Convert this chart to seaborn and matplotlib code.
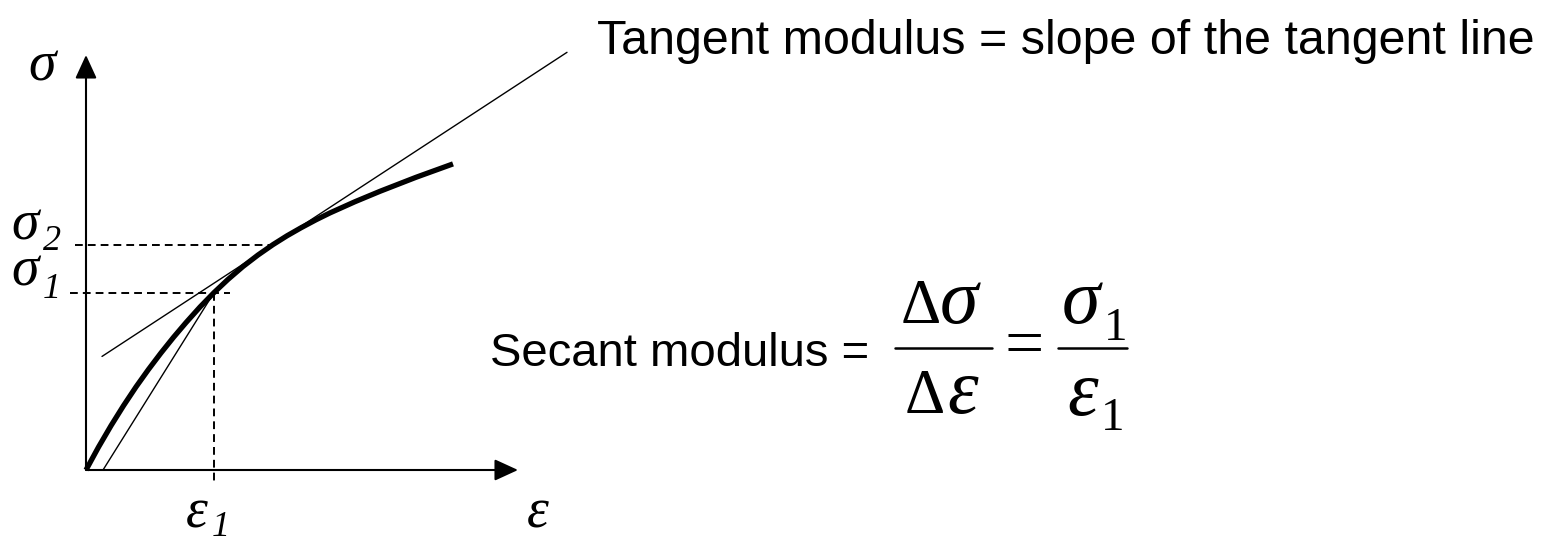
import matplotlib
matplotlib.use("Agg")
import matplotlib.pyplot as plt
import seaborn as sns
import pandas as pd
from matplotlib.lines import Line2D

# ---- data (arbitrary units) ----
strain = [0, 0.125, 0.25, 0.375, 0.5, 0.625, 0.75, 0.875, 1.0, 1.14, 1.28, 1.42, 1.57,
          1.72, 1.87, 2.01, 2.15, 2.30, 2.44, 2.69, 2.94, 3.30, 3.67]
stress = [0, 0.229, 0.443, 0.643, 0.831, 1.006, 1.171, 1.327, 1.474, 1.630, 1.774, 1.906,
          2.035, 2.150, 2.254, 2.342, 2.422, 2.502, 2.571, 2.683, 2.787, 2.927, 3.061]
eps1, sig1 = 1.28, 1.774         # secant point
eps_t, sig2 = 1.87, 2.254        # tangent point
tangent_slope = 0.654
tangent_x = [0.16, 4.81]
secant_x = [0.17, eps1]
secant_y = [0.0, sig1]

W, H = 1547, 543
sns.set_theme(style="white")
plt.rcParams["font.family"] = ["Liberation Sans", "DejaVu Sans"]
plt.rcParams["text.color"] = "black"

fig = plt.figure(figsize=(W / 100, H / 100), dpi=100)
ax = fig.add_axes([0, 0, 1, 1])
ax.set_xlim(-0.86, 14.61)
ax.set_ylim(-0.73, 4.70)
ax.axis("off")

# axes with arrows
arrow = dict(arrowstyle="-|>,head_length=1.2,head_width=0.55", lw=1.5, color="black",
             shrinkA=0, shrinkB=0)
ax.annotate("", xy=(0, 4.15), xytext=(0, 0), arrowprops=arrow)
ax.annotate("", xy=(4.32, 0), xytext=(0, 0), arrowprops=arrow)

# stress-strain curve
curve = pd.DataFrame({"strain": strain, "stress": stress})
sns.lineplot(data=curve, x="strain", y="stress", ax=ax, color="black", lw=3.8,
             sort=False, estimator=None, solid_capstyle="butt", solid_joinstyle="round")

# tangent line
tangent_y = [sig2 + tangent_slope * (x - eps_t) for x in tangent_x]
sns.lineplot(x=tangent_x, y=tangent_y, ax=ax, color="black", lw=1.0, estimator=None, sort=False)
# secant line
sns.lineplot(x=secant_x, y=secant_y, ax=ax, color="black", lw=1.0, estimator=None, sort=False)

# dashed guides
dash = dict(color="black", lw=1.4, linestyle=(0, (4, 2.6)))
ax.plot([-0.11, eps_t], [sig2, sig2], **dash)
ax.plot([-0.16, 1.44], [sig1, sig1], **dash)
ax.plot([eps1, eps1], [sig1, -0.13], **dash)


def ptext(x, y, s, **kw):
    fig.text(x / W, 1 - y / H, s, ha="left", va="baseline", color="black", **kw)


serif_it = dict(family="Liberation Serif", style="italic")
serif = dict(family="Liberation Serif")

# axis labels
ptext(28, 80, "σ", fontsize=40, **serif_it)
ptext(11, 239, "σ", fontsize=40, **serif_it)
ptext(43, 250, "2", fontsize=26, **serif_it)
ptext(11, 286, "σ", fontsize=40, **serif_it)
ptext(43, 298, "1", fontsize=26, **serif_it)
ptext(186, 527, "ε", fontsize=40, **serif_it)
ptext(212, 536, "1", fontsize=26, **serif_it)
ptext(527, 527, "ε", fontsize=40, **serif_it)

# annotation texts
ptext(597, 54, "Tangent modulus = slope of the tangent line", fontsize=34.8, family="Liberation Sans")
ptext(490, 366, "Secant modulus =", fontsize=34, family="Liberation Sans")

# formula
ptext(901, 323, "Δ", fontsize=45, **serif)
ptext(940, 323, "σ", fontsize=56, **serif_it)
ptext(905, 413, "Δ", fontsize=45, **serif)
ptext(947, 413, "ε", fontsize=56, **serif_it)
ptext(1005, 366, "=", fontsize=50, **serif)
ptext(1062, 323, "σ", fontsize=56, **serif_it)
ptext(1104, 340, "1", fontsize=34, **serif)
ptext(1067, 415, "ε", fontsize=56, **serif_it)
ptext(1101, 430, "1", fontsize=34, **serif)

for x0, x1 in [(895, 992), (1058, 1127)]:
    fig.add_artist(Line2D([x0 / W, x1 / W], [1 - 348 / H, 1 - 348 / H],
                          transform=fig.transFigure, color="black", lw=1.8))

fig.savefig("out.png", dpi=100, facecolor="white")
